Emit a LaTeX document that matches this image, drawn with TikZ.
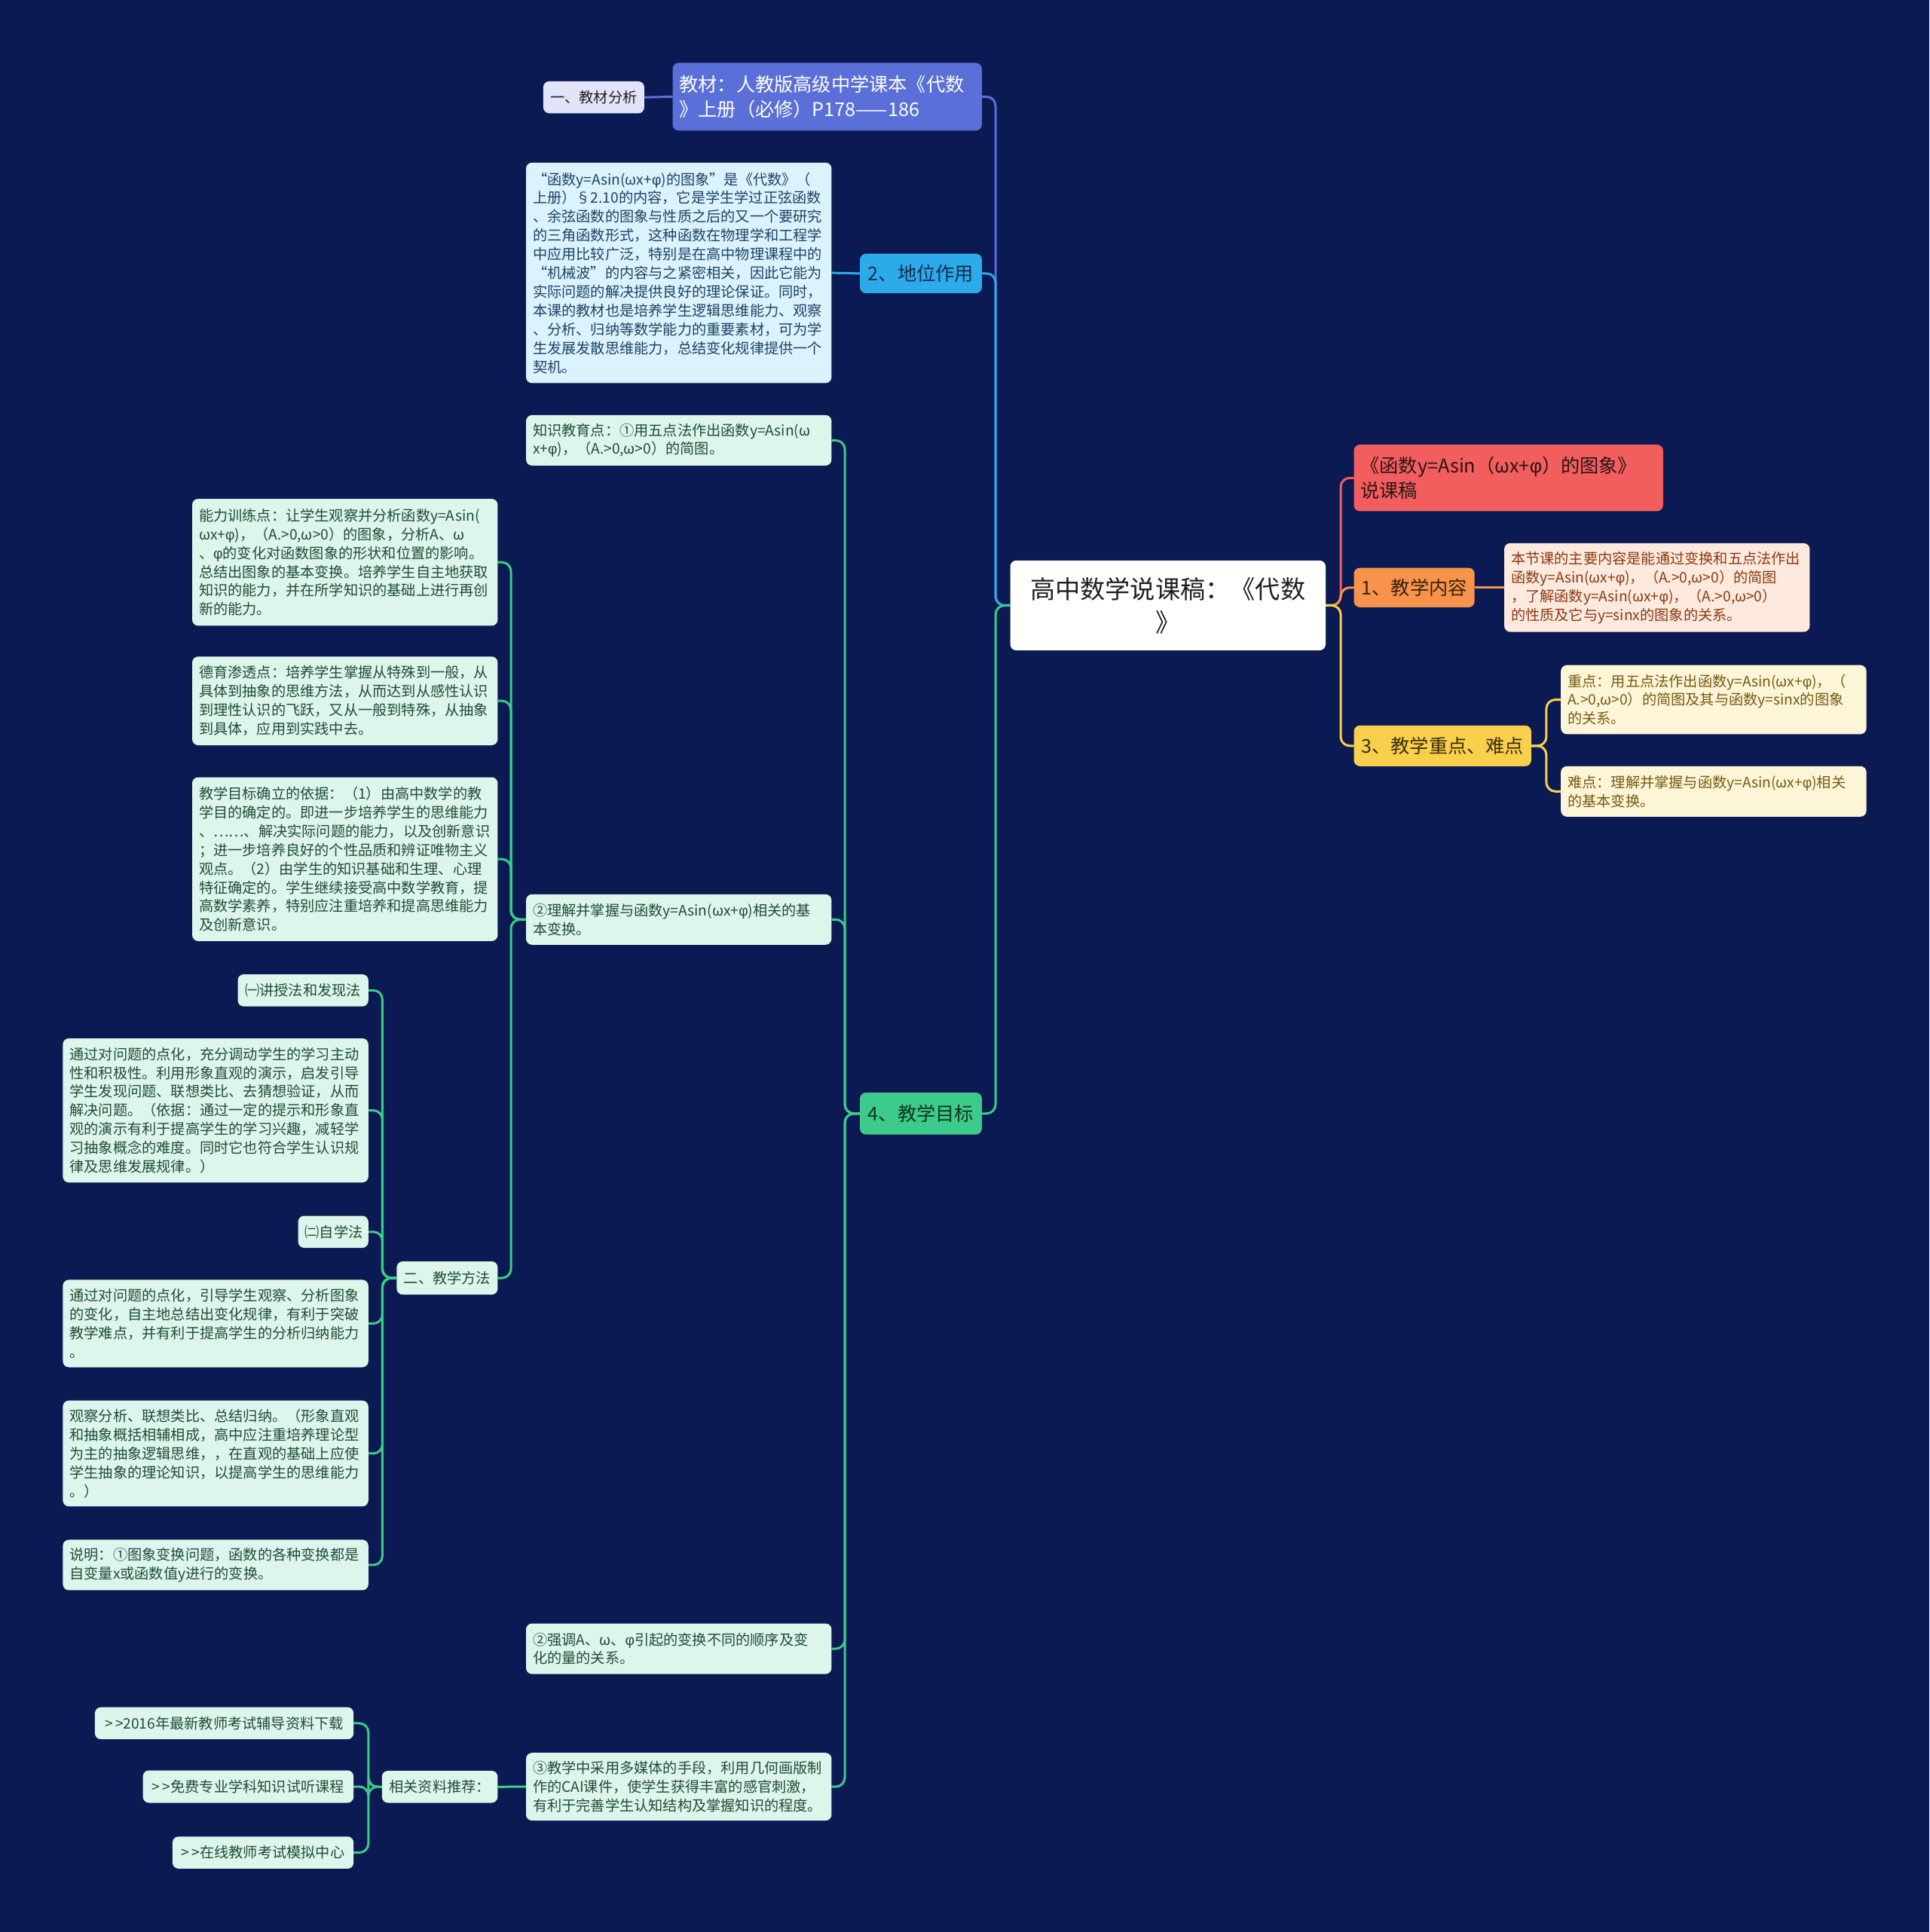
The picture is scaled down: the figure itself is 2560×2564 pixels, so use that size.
\documentclass[tikz,border=0pt]{standalone}
\usepackage{fontspec}
\setmainfont{Noto Sans CJK SC}[Ligatures=TeXOff]
\newfontfamily\grk{Liberation Sans}
\newcommand{\gphi}{{\grk φ}}
\definecolor{bg}{HTML}{0B1A52}
\definecolor{cL1}{HTML}{5B6FD8}
\definecolor{cL1a}{HTML}{E2E5FA}
\definecolor{cL2}{HTML}{2DAAE9}
\definecolor{tL2}{HTML}{0F2D4D}
\definecolor{cL2c}{HTML}{DCF2FC}
\definecolor{tL2c}{HTML}{1B4466}
\definecolor{cL4}{HTML}{3CCB8B}
\definecolor{tL4}{HTML}{0E3322}
\definecolor{cL4c}{HTML}{DDF5EA}
\definecolor{tL4c}{HTML}{1F4D38}
\definecolor{cR1}{HTML}{F25E5E}
\definecolor{tR1}{HTML}{2B1515}
\definecolor{cR2}{HTML}{F7934B}
\definecolor{tR2}{HTML}{3A2210}
\definecolor{cR2c}{HTML}{FDE9DE}
\definecolor{tR2c}{HTML}{8A3A12}
\definecolor{cR3}{HTML}{F9D04B}
\definecolor{tR3}{HTML}{3A2E08}
\definecolor{cR3c}{HTML}{FDF5D7}
\definecolor{tR3c}{HTML}{765A12}
\definecolor{tdark}{HTML}{1E1E1E}
\tikzset{
  nd/.style={rounded corners=4pt, inner xsep=4.5pt, inner ysep=0pt, outer sep=0pt},
  sm/.style={nd, font=\fontsize{9.6}{12.45}\selectfont},
  hd/.style={nd, font=\fontsize{12.6}{16.4}\selectfont},
  rootst/.style={nd, fill=white, text=tdark, align=center, font=\fontsize{16.6}{22}\selectfont},
  grn/.style={sm, fill=cL4c, text=tL4c, align=left},
  grnc/.style={grn, align=center},
  conn/.style={line width=1.5pt, rounded corners=6pt},
}
\newcommand{\mkbox}[7]{%
  \pgfmathsetmacro\mkW{(#4-#2)*0.5}%
  \pgfmathsetmacro\mkH{(#5-#3)*0.5}%
  \pgfmathsetmacro\mkT{(#4-#2)*0.5-9}%
  \node[#6, minimum width=\mkW pt, minimum height=\mkH pt, text width=\mkT pt] (#1) at ({(#2+#4)/2},{(#3+#5)/2}) {#7};%
}
\begin{document}
\begin{tikzpicture}[x=0.5pt, y=-0.5pt]
\useasboundingbox (0,0) rectangle (2560,2564);
\fill[bg] (0,0) rectangle (2560,2564);

% root
\mkbox{root}{1340.5}{743.8}{1759}{863.1}{rootst}{高中数学说课稿：《代数\\》}

% right side
\mkbox{R1}{1796.5}{590.1}{2206.8}{678.4}{hd, fill=cR1, text=tR1, align=left}{《函数y=Asin（ωx+\gphi{}）的图象》\\说课稿}
\mkbox{R2}{1796.5}{753.6}{1956.7}{805.9}{hd, fill=cR2, text=tR2, align=center}{1、教学内容}
\mkbox{R2c}{1996}{720.9}{2401.4}{838.6}{sm, fill=cR2c, text=tR2c, align=left}{本节课的主要内容是能通过变换和五点法作出\\函数y=Asin(ωx+\gphi{})，（A.>0,ω>0）的简图\\，了解函数y=Asin(ωx+\gphi{})，（A.>0,ω>0）\\的性质及它与y=sinx的图象的关系。}
\mkbox{R3}{1796.5}{962.8}{2031.9}{1016.8}{hd, fill=cR3, text=tR3, align=center}{3、教学重点、难点}
\mkbox{R3a}{2071.2}{882.7}{2476.6}{974.3}{sm, fill=cR3c, text=tR3c, align=left}{重点：用五点法作出函数y=Asin(ωx+\gphi{})，（\\A.>0,ω>0）的简图及其与函数y=sinx的图象\\的关系。}
\mkbox{R3b}{2071.2}{1016.8}{2476.6}{1083.8}{sm, fill=cR3c, text=tR3c, align=left}{难点：理解并掌握与函数y=Asin(ωx+\gphi{})相关\\的基本变换。}

% left side, level 1
\mkbox{L1}{892.5}{83.4}{1302.9}{173.3}{hd, fill=cL1, text=white, align=left}{教材：人教版高级中学课本《代数\\》上册（必修）P178——186}
\mkbox{L1a}{720.9}{107.9}{854.9}{150.4}{sm, fill=cL1a, text=tdark, align=center}{一、教材分析}
\mkbox{L2}{1141}{336.7}{1302.9}{389.1}{hd, fill=cL2, text=tL2, align=center}{2、地位作用}
\mkbox{L2c}{698}{215.8}{1103.4}{508.4}{sm, fill=cL2c, text=tL2c, align=left}{“函数y=Asin(ωx+\gphi{})的图象”是《代数》（\\上册）§2.10的内容，它是学生学过正弦函数\\、余弦函数的图象与性质之后的又一个要研究\\的三角函数形式，这种函数在物理学和工程学\\中应用比较广泛，特别是在高中物理课程中的\\“机械波”的内容与之紧密相关，因此它能为\\实际问题的解决提供良好的理论保证。同时，\\本课的教材也是培养学生逻辑思维能力、观察\\、分析、归纳等数学能力的重要素材，可为学\\生发展发散思维能力，总结变化规律提供一个\\契机。}
\mkbox{L4}{1141}{1450}{1302.9}{1505.6}{hd, fill=cL4, text=tL4, align=center}{4、教学目标}

% L4 children
\mkbox{a}{698}{550.9}{1103.4}{617.9}{grn}{知识教育点：①用五点法作出函数y=Asin(ω\\x+\gphi{})，（A.>0,ω>0）的简图。}
\mkbox{b}{698}{1186.8}{1103.4}{1253.8}{grn}{②理解并掌握与函数y=Asin(ωx+\gphi{})相关的基\\本变换。}
\mkbox{c}{698}{2154.5}{1103.4}{2221.6}{grn}{②强调A、ω、\gphi{}引起的变换不同的顺序及变\\化的量的关系。}
\mkbox{d}{698}{2326.2}{1103.4}{2416.1}{grn}{③教学中采用多媒体的手段，利用几何画版制\\作的CAI课件，使学生获得丰富的感官刺激，\\有利于完善学生认知结构及掌握知识的程度。}

% b children
\mkbox{b1}{255}{662}{660.4}{830.4}{grn}{能力训练点：让学生观察并分析函数y=Asin(\\ωx+\gphi{})，（A.>0,ω>0）的图象，分析A、ω\\、\gphi{}的变化对函数图象的形状和位置的影响。\\总结出图象的基本变换。培养学生自主地获取\\知识的能力，并在所学知识的基础上进行再创\\新的能力。}
\mkbox{b2}{255}{871.3}{660.4}{989}{grn}{德育渗透点：培养学生掌握从特殊到一般，从\\具体到抽象的思维方法，从而达到从感性认识\\到理性认识的飞跃，又从一般到特殊，从抽象\\到具体，应用到实践中去。}
\mkbox{b3}{255}{1031.5}{660.4}{1248.9}{grn}{教学目标确立的依据：（1）由高中数学的教\\学目的确定的。即进一步培养学生的思维能力\\、……、解决实际问题的能力，以及创新意识\\；进一步培养良好的个性品质和辨证唯物主义\\观点。（2）由学生的知识基础和生理、心理\\特征确定的。学生继续接受高中数学教育，提\\高数学素养，特别应注重培养和提高思维能力\\及创新意识。}
\mkbox{b4}{526.4}{1674}{660.4}{1718.1}{grnc}{二、教学方法}

% b4 children
\mkbox{m1}{315.5}{1293}{488.8}{1335.6}{grnc}{㈠讲授法和发现法}
\mkbox{m2}{83.4}{1378}{488.8}{1569.3}{grn}{通过对问题的点化，充分调动学生的学习主动\\性和积极性。利用形象直观的演示，启发引导\\学生发现问题、联想类比、去猜想验证，从而\\解决问题。（依据：通过一定的提示和形象直\\观的演示有利于提高学生的学习兴趣，减轻学\\习抽象概念的难度。同时它也符合学生认识规\\律及思维发展规律。）}
\mkbox{m3}{395.6}{1613.5}{488.8}{1656}{grnc}{㈡自学法}
\mkbox{m4}{83.4}{1698.4}{488.8}{1814.5}{grn}{通过对问题的点化，引导学生观察、分析图象\\的变化，自主地总结出变化规律，有利于突破\\教学难点，并有利于提高学生的分析归纳能力\\。}
\mkbox{m5}{83.4}{1858.7}{488.8}{1999.2}{grn}{观察分析、联想类比、总结归纳。（形象直观\\和抽象概括相辅相成，高中应注重培养理论型\\为主的抽象逻辑思维，，在直观的基础上应使\\学生抽象的理论知识，以提高学生的思维能力\\。）}
\mkbox{m6}{83.4}{2043.4}{488.8}{2110.4}{grn}{说明：①图象变换问题，函数的各种变换都是\\自变量x或函数值y进行的变换。}

% d children
\mkbox{r0}{506.8}{2350}{660.4}{2392.5}{grnc}{相关资料推荐：}
\mkbox{r1}{125.9}{2265.7}{469.2}{2308.2}{grnc}{>\,>2016年最新教师考试辅导资料下载}
\mkbox{r2}{189.6}{2349.5}{469.2}{2392.5}{grnc}{>\,>免费专业学科知识试听课程}
\mkbox{r3}{228.9}{2437.3}{469.2}{2479.9}{grnc}{>\,>在线教师考试模拟中心}

% connectors: right
\draw[conn, cR1] (root.east) -- ++(20,0) |- (R1.west);
\draw[conn, cR2] (root.east) -- ++(20,0) |- (R2.west);
\draw[conn, cR3] (root.east) -- ++(20,0) |- (R3.west);
\draw[conn, cR2] (R2.east) -- (R2c.west);
\draw[conn, cR3] (R3.east) -- ++(20,0) |- (R3a.west);
\draw[conn, cR3] (R3.east) -- ++(20,0) |- (R3b.west);

% connectors: left
\draw[conn, cL1] (root.west) -- ++(-19.5,0) |- (L1.east);
\draw[conn, cL2] (root.west) -- ++(-19.5,0) |- (L2.east);
\draw[conn, cL4] (root.west) -- ++(-19.5,0) |- (L4.east);
\draw[conn, cL1] (L1.west) -- (L1a.east);
\draw[conn, cL2] (L2.west) -- (L2c.east);
\foreach \k in {a,b,c,d} {\draw[conn, cL4] (L4.west) -- ++(-20,0) |- (\k.east);}
\foreach \k in {b1,b2,b3,b4} {\draw[conn, cL4] (b.west) -- ++(-20,0) |- (\k.east);}
\foreach \k in {m1,m2,m3,m4,m5,m6} {\draw[conn, cL4] (b4.west) -- ++(-19,0) |- (\k.east);}
\draw[conn, cL4] (d.west) -- (r0.east);
\foreach \k in {r1,r2,r3} {\draw[conn, cL4] (r0.west) -- ++(-18,0) |- (\k.east);}
\end{tikzpicture}
\end{document}
